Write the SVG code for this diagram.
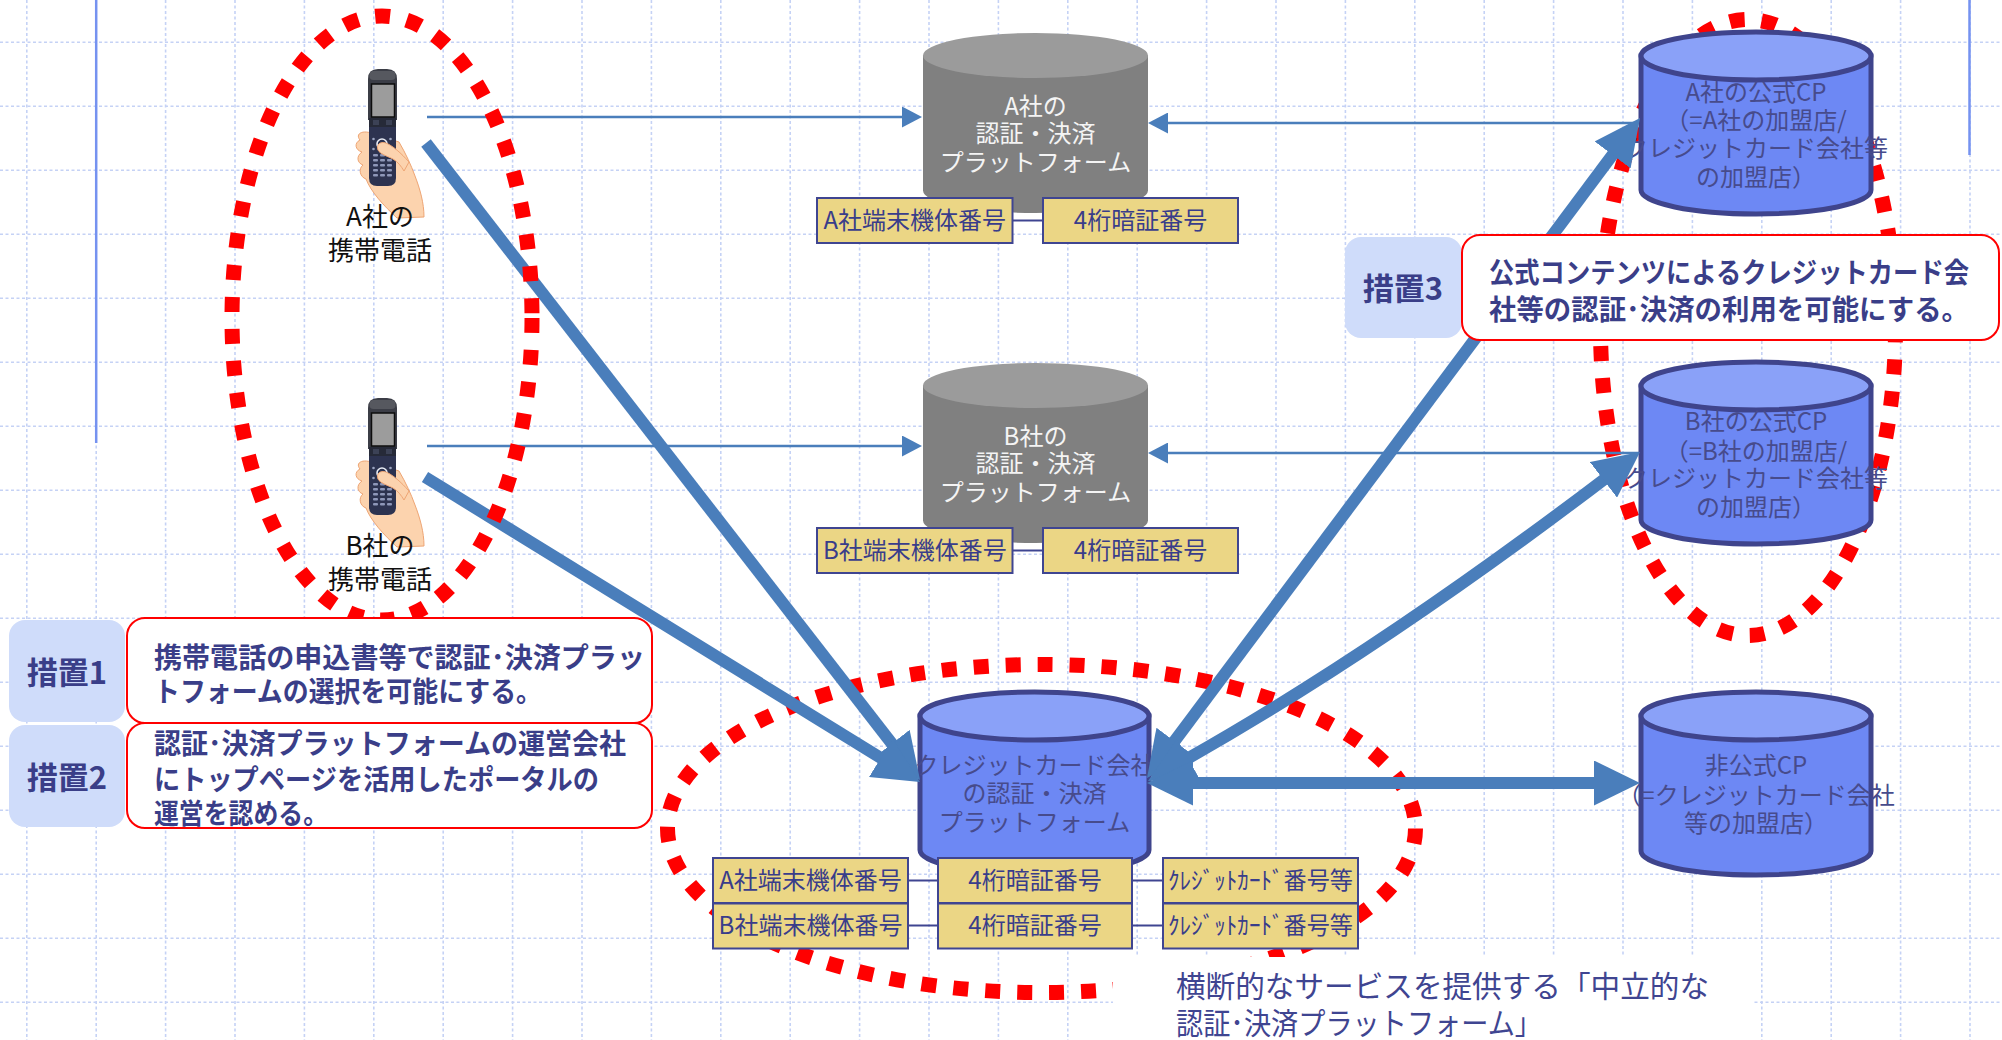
<svg xmlns="http://www.w3.org/2000/svg" width="2002" height="1040" viewBox="0 0 2002 1040">
<style>
  text { font-family: "Noto Sans CJK JP", "Noto Sans", sans-serif; }
  .grid { fill: none; stroke: #c5d2f5; stroke-width: 1.6; stroke-dasharray: 3 2.5; }
  .rule { stroke: #7592f0; stroke-width: 2.5; }
  .ring { fill: none; stroke: #ff0000; stroke-width: 15; stroke-dasharray: 15 17; }
  .thin { fill: none; stroke: #4a7ebb; stroke-width: 2.5; marker-end: url(#headS); }
  .thick { fill: none; stroke: #4a7ebb; stroke-width: 12; }
  .one { marker-end: url(#headL); }
  .both { marker-start: url(#headL); marker-end: url(#headL); }
  .gbody { fill: #808080; }
  .gtop { fill: #9b9b9b; }
  .bbody { fill: #6d88f4; stroke: #3f448c; stroke-width: 5; }
  .btop { fill: #8aa1f8; stroke: #3f448c; stroke-width: 5; }
  .gtxt { fill: #f4f4f4; font-size: 24px; text-anchor: middle; }
  .btxt { fill: #474b8c; font-size: 24px; text-anchor: middle; }
  .tag rect { fill: #ebd685; stroke: #3f4591; stroke-width: 2; }
  .tag text { fill: #393d8a; font-size: 24px; text-anchor: middle; }
  .link { stroke: #3f4591; stroke-width: 2; }
  .plabel { fill: #111111; font-size: 26px; text-anchor: middle; }
  .mlabel rect { fill: #cfdcfa; }
  .mlabel text { fill: #3a3e88; font-size: 31px; font-weight: 700; text-anchor: middle; }
  .mbox rect { fill: #ffffff; stroke: #ff0000; stroke-width: 2; }
  .mbox text { fill: #3a3e88; font-size: 28px; font-weight: 700; }
  .note text { fill: #3f4591; font-size: 30px; }
</style>
<defs>
  <marker id="headL" markerUnits="userSpaceOnUse" viewBox="0 0 46 45" markerWidth="46" markerHeight="45" refX="4" refY="22.5" orient="auto-start-reverse">
    <path d="M0,0 L46,22.5 L0,45 Z" fill="#4a7ebb"/>
  </marker>
  <marker id="headS" markerUnits="userSpaceOnUse" viewBox="0 0 20 21" markerWidth="20" markerHeight="21" refX="2" refY="10.5" orient="auto">
    <path d="M0,0 L20,10.5 L0,21 Z" fill="#4a7ebb"/>
  </marker>
  <!-- flip phone held in a hand -->
  <g id="handset">
    <path d="M371,133 C362,130 355,134 360,140 C354,143 355,150 362,152 C356,156 357,163 363,165 C358,169 360,177 366,179 C371,192 384,206 397,218 L424,217 C424,203 420,189 415,176 C411,165 406,154 399,142 Z" fill="#fcd3ae" stroke="#eea574" stroke-width="1"/>
    <path d="M368,120 V79 Q368,69 378,69 H387 Q397,69 397,79 V120 Z" fill="#3b3d46"/>
    <rect x="369.5" y="71" width="26" height="9" rx="4" fill="#56585f"/>
    <rect x="371.5" y="84" width="23" height="33" fill="#9c9c9c" stroke="#0d0d0d" stroke-width="1.5"/>
    <rect x="369" y="118" width="27" height="9" fill="#262a38"/>
    <rect x="373" y="120" width="6" height="5" fill="#3c4256"/>
    <rect x="386" y="120" width="6" height="5" fill="#3c4256"/>
    <path d="M369,127 H396 V178 Q396,186 388,186 H377 Q369,186 369,178 Z" fill="#2d3350"/>
    <circle cx="382" cy="144" r="5" fill="none" stroke="#e8ecf5" stroke-width="1.6"/>
    <g fill="#9aa3c0">
      <circle cx="373.5" cy="139" r="1.3"/><circle cx="390.5" cy="139" r="1.3"/>
      <circle cx="373.5" cy="149" r="1.3"/><circle cx="390.5" cy="149" r="1.3"/>
    </g>
    <g fill="#8e97b8">
      <rect x="373" y="154" width="5" height="2.6" rx="1"/><rect x="380" y="154" width="5" height="2.6" rx="1"/><rect x="387" y="154" width="5" height="2.6" rx="1"/>
      <rect x="373" y="159" width="5" height="2.6" rx="1"/><rect x="380" y="159" width="5" height="2.6" rx="1"/><rect x="387" y="159" width="5" height="2.6" rx="1"/>
      <rect x="373" y="164" width="5" height="2.6" rx="1"/><rect x="380" y="164" width="5" height="2.6" rx="1"/><rect x="387" y="164" width="5" height="2.6" rx="1"/>
      <rect x="373" y="169" width="5" height="2.6" rx="1"/><rect x="380" y="169" width="5" height="2.6" rx="1"/><rect x="387" y="169" width="5" height="2.6" rx="1"/>
      <rect x="373" y="174" width="5" height="2.6" rx="1"/><rect x="380" y="174" width="5" height="2.6" rx="1"/><rect x="387" y="174" width="5" height="2.6" rx="1"/>
    </g>
    <path d="M409,162 C401,153 393,146 386,143 C380,141 376,145 378,150 C380,154 387,156 393,159 C398,162 401,166 404,171 Z" fill="#fcd3ae" stroke="#eea574" stroke-width="1"/>
  </g>
</defs>

<rect width="2002" height="1040" fill="#ffffff"/>

<!-- background grid -->
<g id="grid">
  <path class="grid" d="M26.8,0V1040 M96.2,0V1040 M165.6,0V1040 M235,0V1040 M304.4,0V1040 M373.8,0V1040 M443.2,0V1040 M512.6,0V1040 M582,0V1040 M651.4,0V1040 M720.8,0V1040 M790.2,0V1040 M859.6,0V1040 M929,0V1040 M998.4,0V1040 M1067.8,0V1040 M1137.2,0V1040 M1206.6,0V1040 M1276,0V1040 M1345.4,0V1040 M1414.8,0V1040 M1484.2,0V1040 M1553.6,0V1040 M1623,0V1040 M1692.4,0V1040 M1761.8,0V1040 M1831.2,0V1040 M1900.6,0V1040 M1970,0V1040"/>
  <path class="grid" d="M0,42.3H2002 M0,106.3H2002 M0,170.3H2002 M0,234.3H2002 M0,298.3H2002 M0,362.3H2002 M0,426.3H2002 M0,490.3H2002 M0,554.3H2002 M0,618.3H2002 M0,682.3H2002 M0,746.3H2002 M0,810.3H2002 M0,874.3H2002 M0,938.3H2002 M0,1002.3H2002"/>
  <line class="rule" x1="96.2" y1="0" x2="96.2" y2="443"/>
  <line class="rule" x1="1969.5" y1="0" x2="1969.5" y2="155"/>
</g>

<!-- dotted groupings behind the cylinders -->
<g id="ring-cp">
  <ellipse class="ring" cx="1748" cy="327.5" rx="147.5" ry="308"/>
</g>
<g id="ring-neutral">
  <ellipse class="ring" cx="1041.5" cy="828.5" rx="374" ry="164"/>
</g>

<!-- thin links between handsets, carrier platforms and official CPs -->
<g id="connectors-thin">
  <path class="thin" d="M427,117 H904"/>
  <path class="thin" d="M1641,123 H1166"/>
  <path class="thin" d="M427,446 H904"/>
  <path class="thin" d="M1641,453 H1166"/>
</g>

<!-- carrier A platform -->
<g id="platform-a">
  <path class="gbody" d="M923,55.5 V190.5 A112.5,22.5 0 0 0 1148,190.5 V55.5 Z"/>
  <ellipse class="gtop" cx="1035.5" cy="55.5" rx="112.5" ry="22.5"/>
  <text class="gtxt" x="1035.5" y="115">A社の</text>
  <text class="gtxt" x="1035.5" y="142">認証・決済</text>
  <text class="gtxt" x="1035.5" y="171">プラットフォーム</text>
</g>
<g id="platform-a-keys" class="tag">
  <line class="link" x1="1012" y1="220.5" x2="1043" y2="220.5"/>
  <rect x="817" y="198" width="195.5" height="45"/>
  <rect x="1043" y="198" width="195" height="45"/>
  <text x="914.8" y="229">A社端末機体番号</text>
  <text x="1140.5" y="229">4桁暗証番号</text>
</g>

<!-- carrier B platform -->
<g id="platform-b">
  <path class="gbody" d="M923,385.5 V520.5 A112.5,22.5 0 0 0 1148,520.5 V385.5 Z"/>
  <ellipse class="gtop" cx="1035.5" cy="385.5" rx="112.5" ry="22.5"/>
  <text class="gtxt" x="1035.5" y="445">B社の</text>
  <text class="gtxt" x="1035.5" y="472">認証・決済</text>
  <text class="gtxt" x="1035.5" y="501">プラットフォーム</text>
</g>
<g id="platform-b-keys" class="tag">
  <line class="link" x1="1012" y1="550.5" x2="1043" y2="550.5"/>
  <rect x="817" y="528" width="195.5" height="45"/>
  <rect x="1043" y="528" width="195" height="45"/>
  <text x="914.8" y="559">B社端末機体番号</text>
  <text x="1140.5" y="559">4桁暗証番号</text>
</g>

<!-- official content providers -->
<g id="cp-a">
  <path class="bbody" d="M1641,56 V190 A115,24 0 0 0 1871,190 V56 Z"/>
  <ellipse class="btop" cx="1756" cy="56" rx="115" ry="24"/>
  <text class="btxt" x="1756" y="101">A社の公式CP</text>
  <text class="btxt" x="1756" y="129">（=A社の加盟店/</text>
  <text class="btxt" x="1756" y="157">クレジットカード会社等</text>
  <text class="btxt" x="1756" y="186">の加盟店）</text>
</g>
<g id="cp-b">
  <path class="bbody" d="M1641,386 V520 A115,24 0 0 0 1871,520 V386 Z"/>
  <ellipse class="btop" cx="1756" cy="386" rx="115" ry="24"/>
  <text class="btxt" x="1756" y="430">B社の公式CP</text>
  <text class="btxt" x="1756" y="460">（=B社の加盟店/</text>
  <text class="btxt" x="1756" y="487">クレジットカード会社等</text>
  <text class="btxt" x="1756" y="516">の加盟店）</text>
</g>
<g id="cp-unofficial">
  <path class="bbody" d="M1641,716 V851 A115,24 0 0 0 1871,851 V716 Z"/>
  <ellipse class="btop" cx="1756" cy="716" rx="115" ry="24"/>
  <text class="btxt" x="1756" y="774">非公式CP</text>
  <text class="btxt" x="1756" y="804">（=クレジットカード会社</text>
  <text class="btxt" x="1756" y="832">等の加盟店）</text>
</g>

<!-- neutral credit card platform -->
<g id="platform-card">
  <path class="bbody" d="M920,716 V850 A114.5,24 0 0 0 1149,850 V716 Z"/>
  <ellipse class="btop" cx="1034.5" cy="716" rx="114.5" ry="24"/>
  <text class="btxt" x="1034.5" y="774">クレジットカード会社</text>
  <text class="btxt" x="1034.5" y="802">の認証・決済</text>
  <text class="btxt" x="1034.5" y="831">プラットフォーム</text>
</g>
<g id="platform-card-keys" class="tag">
  <line class="link" x1="908" y1="880.5" x2="938" y2="880.5"/>
  <line class="link" x1="1132" y1="880.5" x2="1163" y2="880.5"/>
  <line class="link" x1="908" y1="925.5" x2="938" y2="925.5"/>
  <line class="link" x1="1132" y1="925.5" x2="1163" y2="925.5"/>
  <rect x="713" y="858" width="195" height="45"/>
  <rect x="938" y="858" width="194" height="45"/>
  <rect x="1163" y="858" width="195" height="45"/>
  <rect x="713" y="903.5" width="195" height="45"/>
  <rect x="938" y="903.5" width="194" height="45"/>
  <rect x="1163" y="903.5" width="195" height="45"/>
  <text x="810.5" y="889">A社端末機体番号</text>
  <text x="1035" y="889">4桁暗証番号</text>
  <text x="1260.5" y="889" textLength="185" lengthAdjust="spacingAndGlyphs">ｸﾚｼﾞｯﾄｶｰﾄﾞ番号等</text>
  <text x="810.5" y="934">B社端末機体番号</text>
  <text x="1035" y="934">4桁暗証番号</text>
  <text x="1260.5" y="934" textLength="185" lengthAdjust="spacingAndGlyphs">ｸﾚｼﾞｯﾄｶｰﾄﾞ番号等</text>
</g>

<!-- heavy links through the neutral platform -->
<g id="connectors-thick">
  <path class="thick one" d="M426,143 L894.3,746.8"/>
  <path class="thick one" d="M425,477 L884.2,760"/>
  <path class="thick both" d="M1172.1,744.4 L1614.9,151.7"/>
  <path class="thick both" d="M1184.6,760.3 Q1380,650 1606.6,477.4"/>
  <path class="thick both" d="M1189,783 H1598"/>
</g>

<!-- dotted grouping of the handsets -->
<g id="ring-phones">
  <ellipse class="ring" cx="382" cy="318" rx="150" ry="302"/>
</g>

<g id="phone-a">
  <use href="#handset"/>
  <text class="plabel" x="380" y="226">A社の</text>
  <text class="plabel" x="380" y="260">携帯電話</text>
</g>
<g id="phone-b">
  <use href="#handset" transform="translate(0,329)"/>
  <text class="plabel" x="380" y="555">B社の</text>
  <text class="plabel" x="380" y="589">携帯電話</text>
</g>

<!-- measures -->
<g id="measure-1">
  <g class="mlabel">
    <rect x="9" y="620" width="116" height="102" rx="16"/>
    <text x="67" y="683.5">措置1</text>
  </g>
  <g class="mbox">
    <rect x="127" y="618" width="525" height="105" rx="18"/>
    <text x="154" y="668" textLength="491" lengthAdjust="spacingAndGlyphs">携帯電話の申込書等で認証･決済プラッ</text>
    <text x="154" y="702" textLength="388" lengthAdjust="spacingAndGlyphs">トフォームの選択を可能にする。</text>
  </g>
</g>
<g id="measure-2">
  <g class="mlabel">
    <rect x="9" y="725" width="116" height="102" rx="16"/>
    <text x="67" y="788.5">措置2</text>
  </g>
  <g class="mbox">
    <rect x="127" y="723" width="525" height="105" rx="18"/>
    <text x="154" y="754" textLength="472" lengthAdjust="spacingAndGlyphs">認証･決済プラットフォームの運営会社</text>
    <text x="154" y="790" textLength="445" lengthAdjust="spacingAndGlyphs">にトップページを活用したポータルの</text>
    <text x="154" y="824" textLength="174" lengthAdjust="spacingAndGlyphs">運営を認める。</text>
  </g>
</g>
<g id="measure-3">
  <g class="mlabel">
    <rect x="1345" y="237" width="117" height="101" rx="16"/>
    <text x="1403" y="299.5">措置3</text>
  </g>
  <g class="mbox">
    <rect x="1462" y="235" width="537" height="105" rx="18"/>
    <text x="1489" y="283" textLength="480" lengthAdjust="spacingAndGlyphs">公式コンテンツによるクレジットカード会</text>
    <text x="1489" y="320" textLength="480" lengthAdjust="spacingAndGlyphs">社等の認証･決済の利用を可能にする。</text>
  </g>
</g>

<!-- caption of the neutral platform -->
<g id="note" class="note">
  <rect x="1113" y="957" width="640" height="83" fill="#ffffff"/>
  <text x="1176" y="997" textLength="533" lengthAdjust="spacingAndGlyphs">横断的なサービスを提供する「中立的な</text>
  <text x="1176" y="1034" textLength="366" lengthAdjust="spacingAndGlyphs">認証･決済プラットフォーム」</text>
</g>
</svg>
